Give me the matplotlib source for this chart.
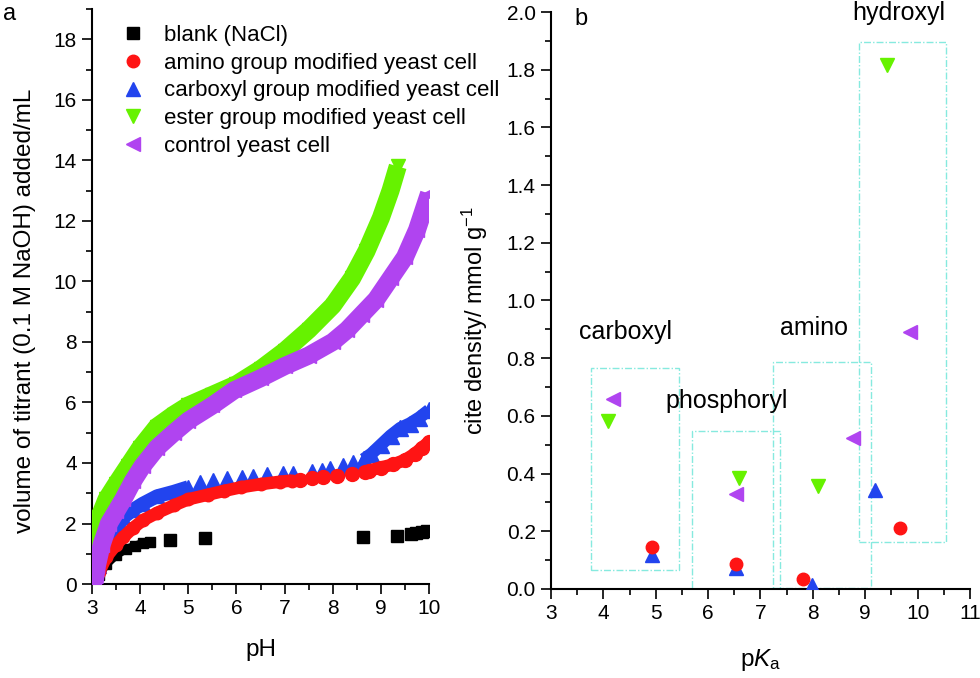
import matplotlib
matplotlib.use('Agg')
import matplotlib.pyplot as plt
from matplotlib.lines import Line2D
from matplotlib.patches import Rectangle
from matplotlib.ticker import MultipleLocator

plt.rcParams['font.family'] = ['Liberation Sans', 'DejaVu Sans']
plt.rcParams['mathtext.fontset'] = 'custom'
plt.rcParams['mathtext.rm'] = 'Liberation Sans'
plt.rcParams['mathtext.it'] = 'Liberation Sans:italic'

# colours
c_black = '#000000'
c_red = '#ff1414'
c_blue = '#2244ee'
c_green = '#66f200'
c_purple = '#b044f0'
c_box = '#86eadf'

# ---- panel a : titration curves (pH, volume added / mL) ----
black_low_ph = [3.05, 3.15, 3.3, 3.5, 3.7, 3.9, 4.05, 4.2]
black_low_v = [0.0, 0.3, 0.65, 0.95, 1.15, 1.27, 1.35, 1.4]
black_mid_ph = [4.61, 5.35, 8.62, 9.33]
black_mid_v = [1.45, 1.51, 1.56, 1.6]
black_high_ph = [9.62, 9.72, 9.85, 9.96]
black_high_v = [1.65, 1.68, 1.72, 1.76]

red_low_ph = [3.05, 3.15, 3.3, 3.5, 3.65, 3.85, 4.05, 4.35, 4.7, 5.0, 5.4, 5.75, 6.1, 6.5, 6.9, 7.15]
red_low_v = [0.0, 0.4, 0.9, 1.3, 1.55, 1.85, 2.1, 2.35, 2.6, 2.8, 2.95, 3.08, 3.2, 3.3, 3.38, 3.42]
red_mid_ph = [7.32, 7.56, 7.80, 8.09, 8.39, 8.66]
red_mid_v = [3.44, 3.5, 3.55, 3.58, 3.63, 3.71]
red_high_ph = [8.75, 9.0, 9.25, 9.5, 9.7, 9.85, 10.0]
red_high_v = [3.75, 3.85, 3.95, 4.1, 4.3, 4.5, 4.7]

blue_low_ph = [3.05, 3.15, 3.3, 3.5, 3.65, 3.85, 4.05, 4.35, 4.7, 5.0]
blue_low_v = [0.0, 0.6, 1.2, 1.8, 2.2, 2.45, 2.65, 2.9, 3.05, 3.2]
blue_mid_ph = [5.24, 5.52, 5.80, 6.11, 6.35, 6.63, 6.97, 7.18, 7.56, 7.77, 7.94, 8.22, 8.43, 8.64]
blue_mid_v = [3.35, 3.42, 3.48, 3.52, 3.55, 3.6, 3.62, 3.65, 3.7, 3.75, 3.8, 3.9, 4.0, 4.12]
blue_high_ph = [8.64, 8.8, 9.0, 9.2, 9.4, 9.6, 9.8, 10.0]
blue_high_v = [4.12, 4.3, 4.6, 4.9, 5.15, 5.3, 5.5, 5.75]

green_ph = [3.0, 3.0, 3.05, 3.15, 3.3, 3.5, 3.75, 4.0, 4.35, 4.7, 5.0, 5.5, 6.0, 6.5,
            7.0, 7.5, 8.0, 8.4, 8.7, 9.0, 9.2, 9.35]
green_v = [0.1, 1.2, 1.6, 2.2, 2.8, 3.3, 3.9, 4.5, 5.2, 5.6, 5.9, 6.25, 6.6, 7.1,
           7.7, 8.4, 9.2, 10.1, 11.0, 12.1, 13.0, 13.8]

purple_ph = [3.05, 3.1, 3.2, 3.35, 3.5, 3.65, 3.85, 4.05, 4.35, 4.7, 5.0, 5.5, 5.95, 6.5,
             7.0, 7.5, 8.0, 8.3, 8.6, 8.9, 9.2, 9.5, 9.75, 10.0]
purple_v = [0.0, 0.6, 1.3, 2.0, 2.4, 2.8, 3.4, 3.9, 4.5, 5.0, 5.4, 5.9, 6.4, 6.8,
            7.2, 7.55, 8.0, 8.4, 8.9, 9.4, 10.1, 10.8, 11.7, 12.9]

legend_labels = ['blank (NaCl)', 'amino group modified yeast cell',
                 'carboxyl group modified yeast cell', 'ester group modified yeast cell',
                 'control yeast cell']

# ---- panel b : site density vs pKa ----
amino_pka = [4.93, 6.53, 7.82, 9.67]
amino_d = [0.147, 0.087, 0.034, 0.211]
carboxyl_pka = [4.92, 6.53, 7.99, 9.18]
carboxyl_d = [0.118, 0.072, 0.014, 0.343]
ester_pka = [4.09, 6.59, 8.10, 9.42]
ester_d = [0.582, 0.384, 0.357, 1.816]
control_pka = [4.19, 6.53, 8.77, 9.85]
control_d = [0.659, 0.328, 0.522, 0.89]

# boxes: (pKa left, pKa right, bottom, top)
boxes = [(3.76, 5.44, 0.066, 0.765),
         (5.70, 7.38, -0.013, 0.549),
         (7.24, 9.11, 0.002, 0.786),
         (8.88, 10.55, 0.164, 1.895)]
group_names = ['carboxyl', 'phosphoryl', 'amino', 'hydroxyl']
group_pos = [(3.53, 0.89), (5.19, 0.65), (7.38, 0.905), (8.76, 1.995)]


def style_axis(ax):
    for s in ['top', 'right']:
        ax.spines[s].set_visible(False)
    for s in ['left', 'bottom']:
        ax.spines[s].set_linewidth(1.5)
    ax.tick_params(which='both', direction='out', width=1.2, labelsize=15, pad=4)
    ax.tick_params(which='major', length=7)
    ax.tick_params(which='minor', length=4)


fig = plt.figure(figsize=(9.8, 6.78), dpi=100)
ax1 = fig.add_axes([0.0939, 0.1386, 0.3439, 0.8481])
ax2 = fig.add_axes([0.5622, 0.1313, 0.4276, 0.8510])


# panel a
def band(ax, x, y, color, marker, lw, ms, z):
    ax.plot(x, y, color=color, lw=lw, solid_capstyle='butt', marker=marker,
            ms=ms, mec=color, zorder=z)


def dots(ax, x, y, color, marker, ms, z):
    ax.plot(x, y, ls='none', color=color, marker=marker, ms=ms, mec=color, zorder=z)


band(ax1, black_low_ph, black_low_v, c_black, 's', 6, 7, 2)
dots(ax1, black_mid_ph, black_mid_v, c_black, 's', 8.5, 2)
band(ax1, black_high_ph, black_high_v, c_black, 's', 6, 8, 2)

band(ax1, blue_low_ph, blue_low_v, c_blue, '^', 10, 10, 3)
dots(ax1, blue_mid_ph, blue_mid_v, c_blue, '^', 11, 3)
band(ax1, blue_high_ph, blue_high_v, c_blue, '^', 9, 11, 3)

band(ax1, red_low_ph, red_low_v, c_red, 'o', 9, 9, 4)
dots(ax1, red_mid_ph, red_mid_v, c_red, 'o', 10, 4)
band(ax1, red_high_ph, red_high_v, c_red, 'o', 9, 10, 4)

band(ax1, green_ph, green_v, c_green, 'v', 13, 10, 5)
band(ax1, purple_ph, purple_v, c_purple, '<', 13, 10, 6)

ax1.set_xlim(3, 10)
ax1.set_ylim(0, 19)
ax1.xaxis.set_major_locator(MultipleLocator(1))
ax1.xaxis.set_minor_locator(MultipleLocator(0.5))
ax1.yaxis.set_major_locator(MultipleLocator(2))
ax1.yaxis.set_minor_locator(MultipleLocator(1))
style_axis(ax1)
ax1.set_xlabel('pH', fontsize=17.5)
ax1.set_ylabel('volume of titrant (0.1 M NaOH) added/mL', fontsize=17.5)
ax1.xaxis.set_label_coords(0.5, -0.095)
ax1.yaxis.set_label_coords(-0.165, 0.475)

handles = [Line2D([], [], ls='none', marker='s', ms=8, color=c_black),
           Line2D([], [], ls='none', marker='o', ms=9, color=c_red),
           Line2D([], [], ls='none', marker='^', ms=10, color=c_blue),
           Line2D([], [], ls='none', marker='v', ms=10, color=c_green),
           Line2D([], [], ls='none', marker='<', ms=10, color=c_purple)]
fig.legend(handles, legend_labels, loc='upper left',
           bbox_to_anchor=(112 / 980, 1 - 14 / 678), frameon=False, fontsize=16,
           borderpad=0, handlelength=0.9, handletextpad=0.95, labelspacing=0.3)

fig.text(0.003, 1 - 14 / 678, 'a', fontsize=17, va='center', ha='left')

# panel b
for (x0, x1, y0, y1) in boxes:
    ax2.add_patch(Rectangle((x0, y0), x1 - x0, y1 - y0, fill=False, ec=c_box, lw=1.0,
                            ls=(0, (5, 1.5, 1, 1.5)), zorder=1))

ax2.plot(carboxyl_pka, carboxyl_d, ls='none', marker='^', ms=10, color=c_blue, zorder=3)
ax2.plot(amino_pka, amino_d, ls='none', marker='o', ms=9, color=c_red, zorder=4)
ax2.plot(ester_pka, ester_d, ls='none', marker='v', ms=10, color=c_green, zorder=3)
ax2.plot(control_pka, control_d, ls='none', marker='<', ms=10, color=c_purple, zorder=3)

for name, (x, y) in zip(group_names, group_pos):
    ax2.text(x, y, name, fontsize=18, va='center', ha='left', clip_on=False)
ax2.text(3.45, 1.975, 'b', fontsize=17, va='center', ha='left')

ax2.set_xlim(3, 11)
ax2.set_ylim(0, 2.0)
ax2.xaxis.set_major_locator(MultipleLocator(1))
ax2.xaxis.set_minor_locator(MultipleLocator(0.5))
ax2.yaxis.set_major_locator(MultipleLocator(0.2))
ax2.yaxis.set_minor_locator(MultipleLocator(0.1))
ax2.yaxis.set_major_formatter(matplotlib.ticker.FormatStrFormatter('%.1f'))
style_axis(ax2)
ax2.set_xlabel(r'p$K_{\mathrm{a}}$', fontsize=17.5)
ax2.set_ylabel(r'cite density/ mmol g$^{\mathrm{-1}}$', fontsize=17)
ax2.xaxis.set_label_coords(0.5, -0.1)
ax2.yaxis.set_label_coords(-0.145, 0.466)

fig.savefig('out.png', dpi=100)
